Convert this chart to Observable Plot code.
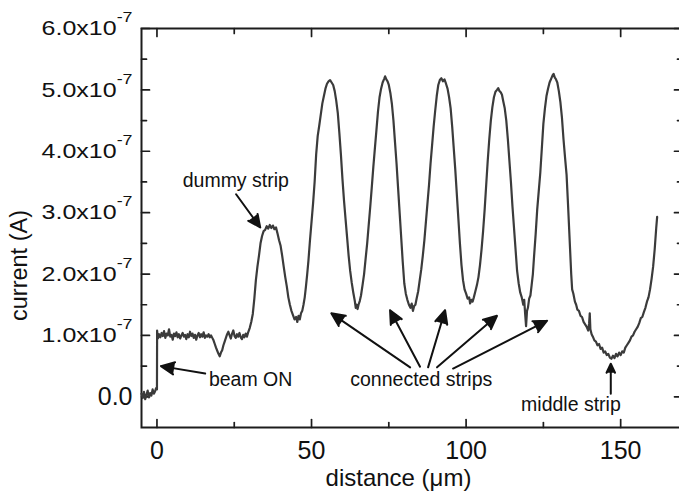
<!DOCTYPE html>
<html><head><meta charset="utf-8">
<script src="https://cdn.jsdelivr.net/npm/d3@7"></script>
<script src="https://cdn.jsdelivr.net/npm/@observablehq/plot@0.6"></script>
<style>
body{margin:0;background:#fff;overflow:hidden}
#chart svg{font-family:"Liberation Sans", Arial, Helvetica, sans-serif}
</style>
</head><body><div id="chart"></div>
<script>
// distance (µm) and current (units of 1e-7 A)
const distance = [
 -5.0,-4.6,-4.2,-3.8,-3.4,-3.0,-2.6,-2.2,-1.8,-1.4,-1.0,-0.6,-0.3,0.0,
 0.05,0.3,0.7,1.1,1.5,1.9,2.3,2.7,3.1,3.5,3.9,4.3,4.7,5.1,5.5,5.9,
 6.3,6.7,7.1,7.5,7.9,8.3,8.7,9.1,9.5,9.9,10.3,10.7,11.1,11.5,11.9,
 12.3,12.7,13.1,13.5,13.9,14.3,14.7,15.1,15.5,15.9,16.3,16.7,17.1,17.5,17.9,
 18.3,18.7,19.1,19.5,19.9,20.3,20.7,21.1,21.5,21.9,22.3,22.7,23.1,23.5,23.9,
 24.3,24.7,25.1,25.5,25.9,26.3,26.7,27.1,27.5,27.9,28.3,28.7,29.1,29.5,
 30.0,30.5,31.0,31.5,32.0,32.5,33.0,33.5,34.0,34.5,35.0,35.5,36.0,36.5,37.0,37.5,38.0,38.5,39.0,39.5,
 40.0,40.5,41.0,41.5,42.0,42.5,43.0,43.5,44.0,44.5,45.0,45.4,45.8,46.2,46.6,47.0,47.4,
 47.8,48.2,48.6,49.0,49.5,50.0,50.5,51.0,51.5,52.0,52.5,53.0,53.5,54.0,54.5,55.0,55.5,56.0,56.5,
 57.0,57.5,58.0,58.5,59.0,59.5,60.0,60.5,61.0,61.5,62.0,62.5,63.0,63.5,64.0,64.3,64.6,64.9,65.2,
 65.6,66.0,66.5,67.0,67.5,68.0,68.5,69.0,69.5,70.0,70.5,71.0,71.5,72.0,72.5,73.0,73.5,73.8,74.2,74.6,
 75.0,75.5,76.0,76.5,77.0,77.5,78.0,78.5,79.0,79.5,80.0,80.5,81.0,81.5,82.0,82.4,82.8,83.2,83.6,84.0,
 84.5,85.0,85.5,86.0,86.5,87.0,87.5,88.0,88.5,89.0,89.5,90.0,90.5,91.0,91.5,92.0,92.5,93.0,93.5,
 94.0,94.5,95.0,95.5,96.0,96.5,97.0,97.5,98.0,98.5,99.0,99.5,100.0,100.5,101.0,101.3,101.7,102.1,102.5,
 103.0,103.5,104.0,104.5,105.0,105.5,106.0,106.5,107.0,107.5,108.0,108.5,109.0,109.5,110.0,110.4,110.8,111.2,111.6,
 112.0,112.5,113.0,113.5,114.0,114.5,115.0,115.5,116.0,116.5,117.0,117.5,118.0,118.5,118.8,119.1,119.4,119.7,120.0,120.4,120.8,
 121.2,121.6,122.0,122.5,123.0,123.5,124.0,124.5,125.0,125.5,126.0,126.5,127.0,127.5,128.0,128.3,128.7,129.0,129.5,
 130.0,130.5,131.0,131.5,132.0,132.5,133.0,133.5,134.0,134.3,134.7,135.2,135.6,136.0,136.5,137.0,137.5,138.0,138.5,
 139.0,139.5,139.8,140.0,140.2,140.6,141.0,141.5,142.0,142.5,143.0,143.5,144.0,144.5,145.0,145.5,146.0,146.5,147.0,147.5,148.0,148.5,149.0,149.5,150.0,
 150.5,151.0,151.5,152.0,152.5,153.0,153.5,154.0,154.5,155.0,155.5,156.0,156.5,157.0,157.5,158.0,158.5,159.0,159.5,160.0,160.5,161.0,161.5,161.8
];
const current = [
 0.05,-0.02,0.08,-0.04,0.03,0.10,-0.01,0.06,0.02,0.12,0.05,0.09,0.14,0.12,
 1.08,0.95,1.02,0.97,1.04,0.99,1.07,0.96,1.03,1.0,1.10,0.98,1.01,0.93,1.03,0.99,
 1.05,0.97,1.02,0.95,1.0,1.04,0.98,1.01,0.94,1.02,0.97,1.06,0.99,1.03,0.96,
 1.01,0.93,1.0,1.04,0.97,1.02,0.98,1.05,0.96,1.0,0.98,1.02,0.97,1.0,0.96,
 0.92,0.86,0.80,0.75,0.70,0.66,0.72,0.76,0.84,0.90,0.96,1.02,1.06,1.0,0.95,
 1.03,1.08,0.99,0.96,1.02,0.98,1.04,0.97,0.94,1.01,0.97,1.03,0.98,1.05,
 1.12,1.22,1.35,1.6,1.9,2.12,2.3,2.5,2.62,2.7,2.72,2.78,2.74,2.8,2.75,2.79,2.73,2.76,2.66,2.55,
 2.46,2.3,2.12,1.95,1.8,1.62,1.5,1.4,1.33,1.26,1.3,1.22,1.32,1.26,1.36,1.4,1.5,
 1.62,1.8,2.0,2.22,2.55,2.85,3.15,3.5,3.95,4.25,4.42,4.6,4.78,4.9,5.02,5.1,5.14,5.16,5.12,
 5.08,4.98,4.82,4.62,4.3,3.95,3.55,3.2,2.9,2.6,2.3,2.05,1.86,1.7,1.56,1.45,1.5,1.43,1.5,
 1.56,1.65,1.82,2.0,2.25,2.5,2.8,3.1,3.42,3.75,4.05,4.35,4.65,4.88,5.02,5.12,5.18,5.22,5.17,5.14,
 5.08,4.95,4.77,4.5,4.15,3.8,3.4,3.0,2.6,2.2,1.85,1.68,1.58,1.5,1.45,1.52,1.4,1.48,1.5,1.6,
 1.72,1.9,2.08,2.3,2.55,2.85,3.15,3.45,3.8,4.1,4.4,4.66,4.9,5.08,5.16,5.19,5.14,5.17,5.1,
 5.02,4.88,4.7,4.4,4.05,3.7,3.3,2.9,2.5,2.15,1.9,1.75,1.68,1.6,1.62,1.52,1.58,1.55,1.62,
 1.72,1.82,1.95,2.15,2.4,2.7,3.05,3.45,3.85,4.2,4.5,4.72,4.88,4.97,5.0,5.03,4.98,4.96,4.92,
 4.82,4.7,4.5,4.2,3.85,3.5,3.1,2.75,2.4,2.05,1.85,1.7,1.62,1.5,1.58,1.35,1.15,1.4,1.45,1.6,1.65,
 1.82,2.0,2.3,2.65,3.05,3.35,3.65,4.05,4.45,4.7,4.9,5.02,5.12,5.18,5.24,5.26,5.2,5.18,5.12,
 4.98,4.8,4.55,4.2,3.9,3.62,3.1,2.55,2.0,1.75,1.68,1.55,1.5,1.42,1.4,1.32,1.3,1.22,1.18,
 1.14,1.08,1.2,1.36,1.1,1.02,0.98,0.92,0.9,0.84,0.86,0.78,0.8,0.72,0.74,0.68,0.7,0.64,0.62,0.67,0.63,0.7,0.66,0.72,0.68,
 0.74,0.72,0.8,0.84,0.88,0.92,0.98,1.0,1.06,1.1,1.14,1.2,1.28,1.3,1.38,1.45,1.55,1.62,1.75,1.92,2.12,2.4,2.75,2.93
];

const xTicks = [0, 50, 100, 150];
const xTickLabels = ["0", "50", "100", "150"];
const xMinorTicks = [25, 75, 125];
const yTicks = [0, 1, 2, 3, 4, 5, 6];
const yTickLabels = ["0.0", "1.0x10^-7", "2.0x10^-7", "3.0x10^-7", "4.0x10^-7", "5.0x10^-7", "6.0x10^-7"];
const yMinorTicks = [0.5, 1.5, 2.5, 3.5, 4.5, 5.5];

const noteText = ["dummy strip", "beam ON", "connected strips", "middle strip"];
const noteX = [25.5, 30.3, 85.5, 133.9];
const noteY = [3.52, 0.28, 0.28, -0.13];

const arrowX1 = [25.6, 15.6, 81.9, 85.1, 87.7, 90.6, 95.8, 146.8];
const arrowY1 = [3.30, 0.38, 0.48, 0.49, 0.48, 0.48, 0.46, 0.05];
const arrowX2 = [33.4, 1.3, 56.4, 75.4, 93.2, 110.0, 126.2, 146.8];
const arrowY2 = [2.76, 0.50, 1.36, 1.41, 1.41, 1.32, 1.24, 0.54];

const ink = "#111";
const frameInk = "#1c1c1c";
const tickShape = {draw(context, l) { context.moveTo(0, 0); context.lineTo(0, -l); }};
const tick = (data, side, len) => {
  const o = {frameAnchor: side, length: len, anchor: "start", shape: tickShape, stroke: frameInk, strokeWidth: 1.7,
    rotate: {bottom: 0, top: 180, left: 90, right: -90}[side]};
  if (side === "bottom" || side === "top") o.x = d => d; else o.y = d => d;
  return Plot.vector(data, o);
};

const svg = Plot.plot({
  width: 679,
  height: 494,
  marginLeft: 141,
  marginRight: -3,
  marginTop: 28,
  marginBottom: 67,
  style: {background: "#fff", color: ink, fontFamily: "'Liberation Sans', Arial, Helvetica, sans-serif"},
  x: {domain: [-5, 170]},
  y: {domain: [-0.5, 6]},
  marks: [
    Plot.frame({stroke: frameInk, strokeWidth: 2}),
    tick(xTicks, "bottom", 8), tick(xMinorTicks, "bottom", 5),
    tick(xTicks, "top", 8), tick(xMinorTicks, "top", 5),
    tick(yTicks, "left", 8), tick(yMinorTicks, "left", 5),
    tick(yTicks, "right", 8), tick(yMinorTicks, "right", 5),
    Plot.axisX({ticks: xTicks, tickSize: 0, tickPadding: 14, fontSize: 25,
      tickFormat: d => xTickLabels[xTicks.indexOf(d)], label: null}),
    Plot.axisY({ticks: yTicks, tickSize: 0, tickPadding: 9, fontSize: 21,
      tickFormat: d => yTickLabels[yTicks.indexOf(d)], label: null}),
    Plot.text(["distance (\u03bcm)"], {frameAnchor: "bottom", textAnchor: "middle", lineAnchor: "middle",
      dx: -13.5, dy: 51, fontSize: 24, fill: ink}),
    Plot.text(["current (A)"], {frameAnchor: "middle", lineAnchor: "middle", rotate: -90,
      dx: -392.2, dy: 37.5, fontSize: 23.5, fill: ink}),
    Plot.line(distance, {x: distance, y: current, stroke: "#3b3b3b", strokeWidth: 2.2}),
    Plot.text(noteText, {x: noteX, y: noteY, text: d => d, fontSize: 19.5, fill: ink}),
    Plot.arrow(arrowX1, {x1: arrowX1, y1: arrowY1, x2: arrowX2, y2: arrowY2,
      stroke: ink, fill: ink, strokeWidth: 2, headLength: 11, headAngle: 50})
  ]
});

// make sure the rotated y title is centred on its anchor
d3.select(svg).selectAll("text").filter(function() { return this.textContent === "current (A)"; })
  .attr("text-anchor", "middle").style("text-anchor", "middle");

// superscript exponents on the y tick labels
d3.select(svg).selectAll('g[aria-label="y-axis tick label"] text').each(function() {
  const s = this.textContent;
  const t = d3.select(this);
  if (s.includes("^")) {
    const [base, exp] = s.split("^");
    t.text(null);
    t.append("tspan").text(base);
    t.append("tspan").attr("font-size", 15).attr("dy", -13).text(exp);
    const tr = t.attr("transform") || "";
    t.attr("transform", tr + " scale(1.19,1)");
  } else {
    t.attr("font-size", 25);
  }
});

document.getElementById("chart").appendChild(svg);
</script>
</body></html>
